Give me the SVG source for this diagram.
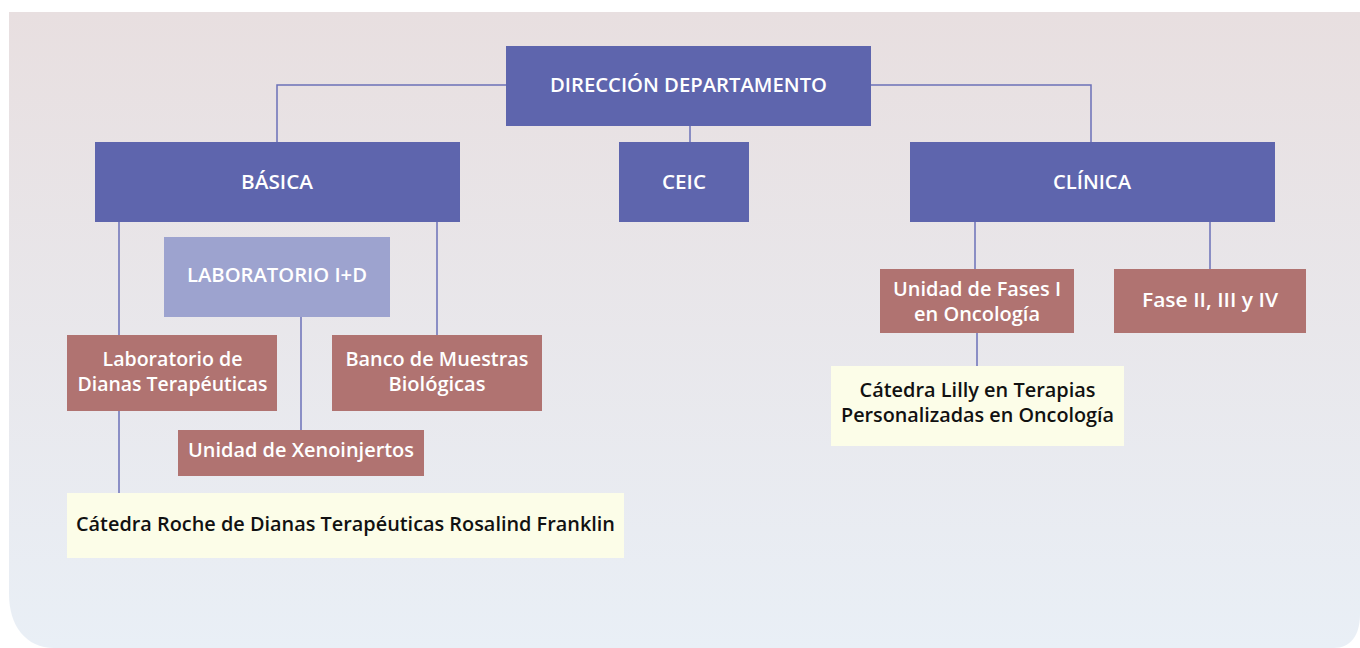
<svg xmlns="http://www.w3.org/2000/svg" width="1360" height="648" viewBox="0 0 1360 648">
<defs>
<linearGradient id="bg" x1="0" y1="0" x2="0" y2="1">
<stop offset="0" stop-color="#e8dfe0"/>
<stop offset="1" stop-color="#e9eff6"/>
</linearGradient>
<style>
.dk{fill:#5e65ad}
.lt{fill:#9da3cf}
.rs{fill:#b07371}
.cr{fill:#fcfde8}
.w{fill:#ffffff;font-family:"Open Sans","Noto Sans","Liberation Sans",sans-serif;font-size:20px;font-weight:600;text-anchor:middle}
.b{fill:#111111;font-family:"Open Sans","Noto Sans","Liberation Sans",sans-serif;font-size:20px;font-weight:600;text-anchor:middle}
.c{stroke:#6b70b8;stroke-width:1.5;fill:none}
</style>
</defs>
<path d="M9,12 H1360 V614 C1360,636 1350,648 1334,648 H54 C26,648 9,626 9,594 Z" fill="url(#bg)"/>
<g id="connectors">
<path class="c" d="M277,142 V85 H1091 V142"/>
<path class="c" d="M690,126 V142"/>
<path class="c" d="M119,222 V335"/>
<path class="c" d="M437,222 V335"/>
<path class="c" d="M301,317 V430"/>
<path class="c" d="M119,411 V493"/>
<path class="c" d="M975,222 V269"/>
<path class="c" d="M1210,222 V269"/>
<path class="c" d="M977,333 V366"/>
</g>
<g id="direccion">
<rect class="dk" x="506" y="46" width="365" height="80"/>
<text class="w" x="688.5" y="92" textLength="277" lengthAdjust="spacingAndGlyphs">DIRECCIÓN DEPARTAMENTO</text>
</g>
<g id="basica">
<rect class="dk" x="95" y="142" width="365" height="80"/>
<text class="w" x="277" y="189" textLength="72" lengthAdjust="spacingAndGlyphs">BÁSICA</text>
</g>
<g id="ceic">
<rect class="dk" x="619" y="142" width="130" height="80"/>
<text class="w" x="684" y="189" textLength="44" lengthAdjust="spacingAndGlyphs">CEIC</text>
</g>
<g id="clinica">
<rect class="dk" x="910" y="142" width="365" height="80"/>
<text class="w" x="1092" y="189" textLength="78" lengthAdjust="spacingAndGlyphs">CLÍNICA</text>
</g>
<g id="lab-id">
<rect class="lt" x="164" y="237" width="226" height="80"/>
<text class="w" x="277" y="282" textLength="180" lengthAdjust="spacingAndGlyphs">LABORATORIO I+D</text>
</g>
<g id="lab-dianas">
<rect class="rs" x="67" y="335" width="210" height="76"/>
<text class="w"><tspan x="172.5" y="366" textLength="140" lengthAdjust="spacingAndGlyphs">Laboratorio de</tspan><tspan x="172.5" y="391" textLength="190" lengthAdjust="spacingAndGlyphs">Dianas Terapéuticas</tspan></text>
</g>
<g id="banco">
<rect class="rs" x="332" y="335" width="210" height="76"/>
<text class="w"><tspan x="437" y="366" textLength="183" lengthAdjust="spacingAndGlyphs">Banco de Muestras</tspan><tspan x="437" y="391" textLength="97" lengthAdjust="spacingAndGlyphs">Biológicas</tspan></text>
</g>
<g id="xeno">
<rect class="rs" x="178" y="430" width="246" height="46"/>
<text class="w" x="301" y="457" textLength="226" lengthAdjust="spacingAndGlyphs">Unidad de Xenoinjertos</text>
</g>
<g id="roche">
<rect class="cr" x="67" y="493" width="557" height="65"/>
<text class="b" x="345.5" y="531" textLength="539" lengthAdjust="spacingAndGlyphs">Cátedra Roche de Dianas Terapéuticas Rosalind Franklin</text>
</g>
<g id="fases-i">
<rect class="rs" x="880" y="269" width="194" height="64"/>
<text class="w" font-size="18"><tspan x="977" y="296" textLength="168" lengthAdjust="spacingAndGlyphs">Unidad de Fases I</tspan><tspan x="977" y="321" textLength="126" lengthAdjust="spacingAndGlyphs">en Oncología</tspan></text>
</g>
<g id="fases-ii">
<rect class="rs" x="1114" y="269" width="192" height="64"/>
<text class="w" x="1210" y="307" textLength="136" lengthAdjust="spacingAndGlyphs">Fase II, III y IV</text>
</g>
<g id="lilly">
<rect class="cr" x="831" y="366" width="293" height="80"/>
<text class="b"><tspan x="977.5" y="397" textLength="236" lengthAdjust="spacingAndGlyphs">Cátedra Lilly en Terapias</tspan><tspan x="977.5" y="422" textLength="273" lengthAdjust="spacingAndGlyphs">Personalizadas en Oncología</tspan></text>
</g>
</svg>
